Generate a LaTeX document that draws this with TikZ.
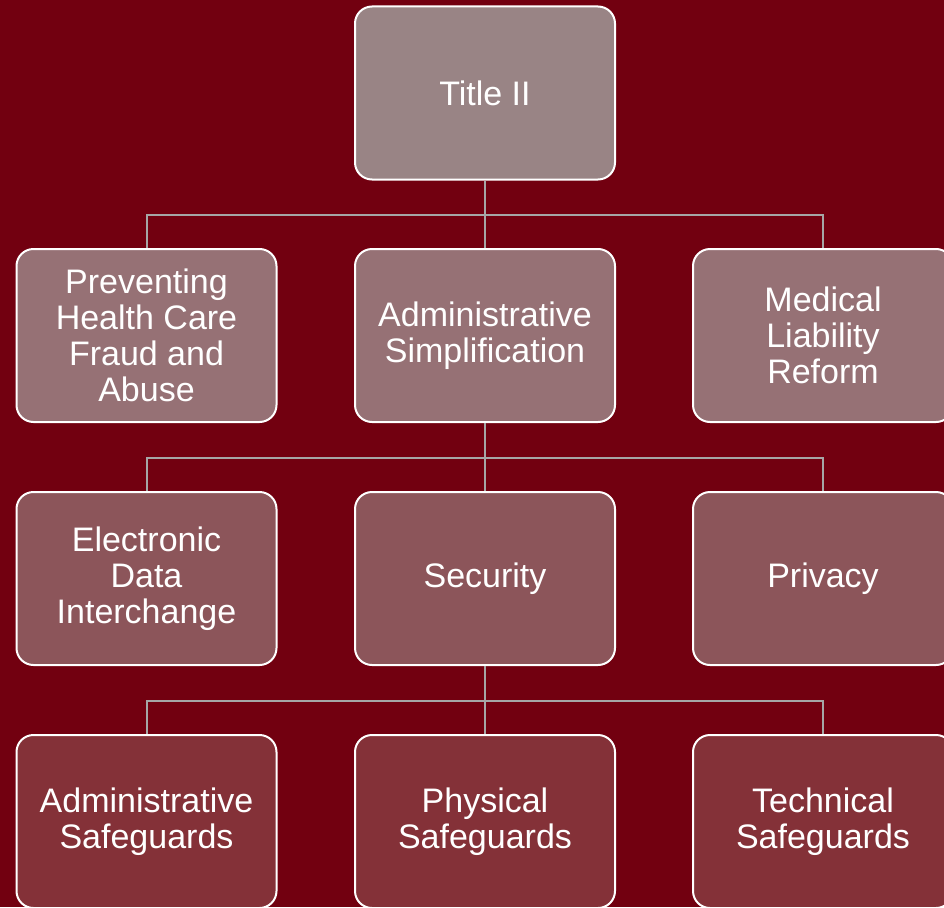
\documentclass[tikz,border=0pt]{standalone}
\usepackage{fontspec}
\setmainfont{Liberation Sans}
\definecolor{bgcolor}{HTML}{720010}
\definecolor{levelone}{HTML}{998485}
\definecolor{leveltwo}{HTML}{967175}
\definecolor{levelthree}{HTML}{8C555A}
\definecolor{levelfour}{HTML}{843138}
\definecolor{linecolor}{HTML}{A6A6A6}

\tikzset{
  box/.style = {draw = white, line width = 2pt, rounded corners = 17pt,
    minimum width = 260pt, minimum height = 173pt, inner sep = 0pt,
    align = center, text = white, font = \fontsize{34}{36}\selectfont},
  link/.style = {draw = linecolor, line width = 2pt}
}

\begin{document}
\begin{tikzpicture}
        % Background
        \useasboundingbox (0pt, 0pt) rectangle (944pt, -907pt);
        \fill [bgcolor] (0pt, 0pt) rectangle (944pt, -907pt);
        \clip (0pt, 0pt) rectangle (944pt, -907pt);

        % Nodes
        \node [box, fill = levelone] (title) at (485pt, -93pt) {Title II};
        \node [box, fill = leveltwo] (fraud) at (146.5pt, -335.5pt) {Preventing\\Health Care\\Fraud and\\Abuse};
        \node [box, fill = leveltwo] (admin) at (485pt, -335.5pt) {Administrative\\Simplification};
        \node [box, fill = leveltwo] (liab) at (823pt, -335.5pt) {Medical\\Liability\\Reform};
        \node [box, fill = levelthree] (edi) at (146.5pt, -578.5pt) {Electronic\\Data\\Interchange};
        \node [box, fill = levelthree] (sec) at (485pt, -578.5pt) {Security};
        \node [box, fill = levelthree] (priv) at (823pt, -578.5pt) {Privacy};
        \node [box, fill = levelfour] (adsafe) at (146.5pt, -821.5pt) {Administrative\\Safeguards};
        \node [box, fill = levelfour] (physafe) at (485pt, -821.5pt) {Physical\\Safeguards};
        \node [box, fill = levelfour] (techsafe) at (823pt, -821.5pt) {Technical\\Safeguards};

        % Lines
        \foreach \child in {fraud, admin, liab}
          \draw [link] (title.south) -- ++(0pt, -34pt) -| (\child.north);
        \foreach \child in {edi, sec, priv}
          \draw [link] (admin.south) -- ++(0pt, -34.5pt) -| (\child.north);
        \foreach \child in {adsafe, physafe, techsafe}
          \draw [link] (sec.south) -- ++(0pt, -34.5pt) -| (\child.north);

\end{tikzpicture}
\end{document}
